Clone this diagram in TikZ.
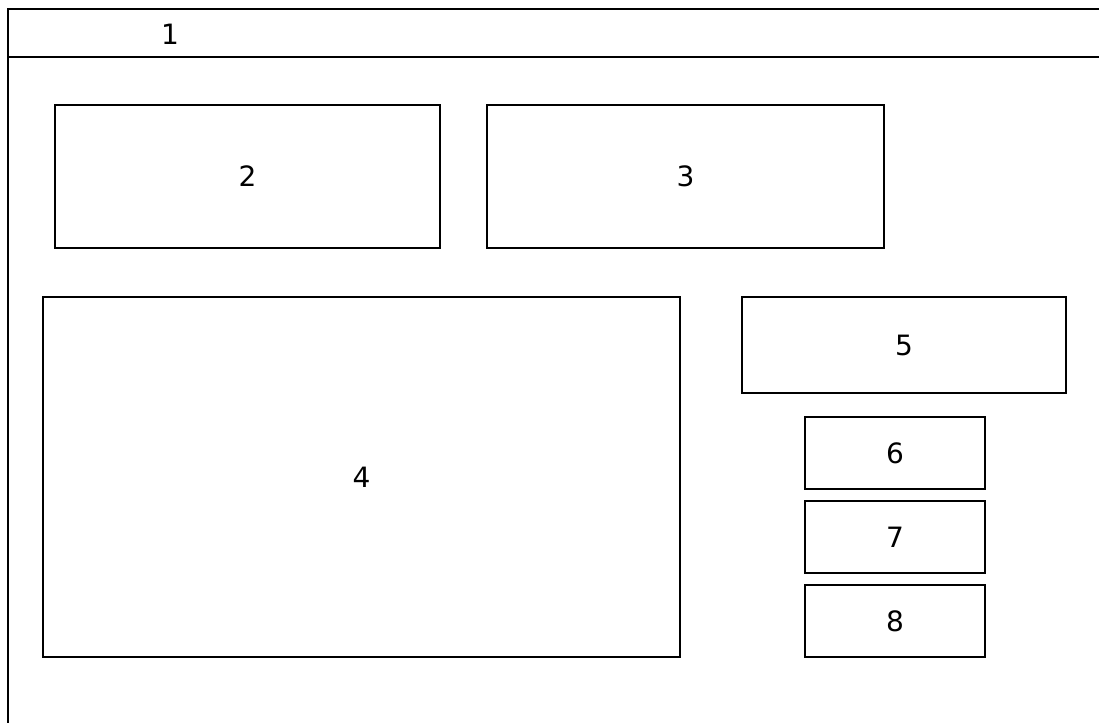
\documentclass[tikz,border=0pt]{standalone}
\usepackage{fontspec}
\setmainfont{DejaVu Sans}
\begin{document}
\begin{tikzpicture}[x=0.5pt,y=-0.5pt,
  panel/.style={draw,line width=1pt,rectangle,inner sep=0pt,font=\fontsize{14}{16}\selectfont},
  tag/.style={font=\fontsize{14}{16}\selectfont,inner sep=0pt}]
  \useasboundingbox (0,0) rectangle (1099,723);
  % outer window and title bar
  \draw[line width=1pt] (1110,9) -- (7.5,9) -- (7.5,740);
  \draw[line width=1pt] (7.5,57) -- (1110,57);
  \node[tag] (title) at (170,34) {1};
  % upper row
  \node[panel,minimum width=192.5pt,minimum height=71.5pt] (p2) at (247.5,176.5) {2};
  \node[panel,minimum width=198.5pt,minimum height=71.5pt] (p3) at (685.5,176.5) {3};
  % main area
  \node[panel,minimum width=318.5pt,minimum height=180pt] (p4) at (361.5,477) {4};
  % side column
  \node[panel,minimum width=162pt,minimum height=48pt] (p5) at (904,345) {5};
  \node[panel,minimum width=90pt,minimum height=36pt] (p6) at (895,453) {6};
  \node[panel,minimum width=90pt,minimum height=36pt] (p7) at (895,537) {7};
  \node[panel,minimum width=90pt,minimum height=36pt] (p8) at (895,621) {8};
\end{tikzpicture}
\end{document}
